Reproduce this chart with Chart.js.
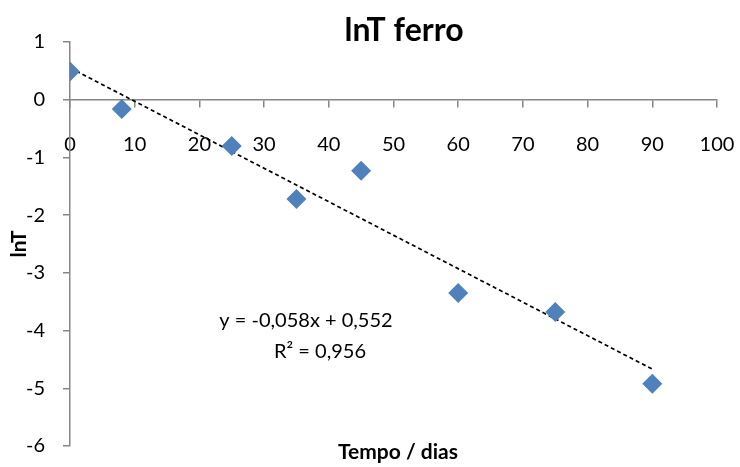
<!DOCTYPE html>
<html>
<head>
<meta charset="utf-8">
<script src="https://cdn.jsdelivr.net/npm/chart.js@4/dist/chart.umd.min.js"></script>
<style>
  html, body { margin: 0; padding: 0; background: #ffffff; }
  #wrap { width: 740px; height: 467px; }
</style>
</head>
<body>
<div id="wrap"><canvas id="chart" width="740" height="467"></canvas></div>
<script>
// Measurements: time in days and ln of T for iron
const days = [0, 8, 25, 35, 45, 60, 75, 90];
const lnT = [0.49, -0.16, -0.80, -1.72, -1.23, -3.35, -3.68, -4.92];

// Linear trendline coefficients (as printed on the chart)
const slope = -0.058;
const intercept = 0.552;
const r2 = 0.956;
const trendRange = [0, 90];

const xTicks = [0, 10, 20, 30, 40, 50, 60, 70, 80, 90, 100];
const yTicks = [1, 0, -1, -2, -3, -4, -5, -6];

const chartTitle = 'lnT ferro';
const xTitle = 'Tempo / dias';
const yTitle = 'lnT';

const fmt = v => v.toFixed(3).replace('.', ',');
const eqLine = 'y = ' + fmt(slope) + 'x + ' + fmt(intercept);
const r2Line = 'R² = ' + fmt(r2);

const trendPoints = trendRange.map(x => ({ x: x, y: slope * x + intercept }));

const axisGray = '#868686';

const textPlugin = {
  id: 'chartTexts',
  afterDraw(chart) {
    const ctx = chart.ctx;
    ctx.save();
    ctx.fillStyle = '#000000';
    ctx.textAlign = 'center';
    ctx.textBaseline = 'middle';
    ctx.font = 'bold 32px Lato';
    ctx.fillText(chartTitle, 404, 31);
    ctx.font = 'bold 21px Lato';
    ctx.fillText(xTitle, 398, 452);
    ctx.font = '20px Lato';
    ctx.fillText(eqLine, 306, 321);
    ctx.fillText(r2Line, 320, 352);
    ctx.restore();
  }
};

new Chart(document.getElementById('chart'), {
  type: 'scatter',
  data: {
    datasets: [
      {
        label: 'lnT',
        data: days.map((d, i) => ({ x: d, y: lnT[i] })),
        pointStyle: 'rectRot',
        pointRadius: 10,
        pointHoverRadius: 10,
        backgroundColor: '#4F81BD',
        borderColor: '#4F81BD',
        borderWidth: 0,
        order: 1
      },
      {
        label: 'Linear',
        type: 'line',
        data: trendPoints,
        borderColor: '#000000',
        borderWidth: 1.7,
        borderDash: [4, 3],
        pointRadius: 0,
        fill: false,
        order: 2
      }
    ]
  },
  options: {
    responsive: false,
    animation: false,
    layout: { padding: { left: 0, right: 23, top: 42, bottom: 21 } },
    plugins: {
      legend: { display: false },
      title: { display: false },
      tooltip: { enabled: false }
    },
    scales: {
      x: {
        type: 'linear',
        position: { y: 0 },
        min: 0,
        max: 100,
        afterBuildTicks: s => { s.ticks = xTicks.map(v => ({ value: v })); },
        afterFit: s => { s.paddingLeft = 0; s.paddingRight = 0; s.paddingTop = 0; s.paddingBottom = 0; },
        ticks: {
          color: '#000000',
          font: { family: 'Lato', size: 20 },
          padding: 26,
          maxRotation: 0
        },
        grid: {
          display: true,
          drawOnChartArea: false,
          drawTicks: true,
          tickLength: 7,
          color: axisGray,
          lineWidth: 1.5
        },
        border: { display: true, color: axisGray, width: 1.5 }
      },
      y: {
        type: 'linear',
        position: 'left',
        min: -6,
        max: 1,
        afterBuildTicks: s => { s.ticks = yTicks.map(v => ({ value: v })); },
        afterFit: s => { s.width = 70; s.paddingTop = 0; s.paddingBottom = 0; s.paddingLeft = 0; s.paddingRight = 0; },
        ticks: {
          color: '#000000',
          font: { family: 'Lato', size: 20 },
          padding: 18
        },
        grid: {
          display: true,
          drawOnChartArea: false,
          drawTicks: true,
          tickLength: 7,
          color: axisGray,
          lineWidth: 1.5
        },
        border: { display: true, color: axisGray, width: 1.5 },
        title: {
          display: true,
          text: yTitle,
          color: '#000000',
          font: { family: 'Lato', size: 21, weight: 'bold' },
          padding: { top: 7, bottom: 0 }
        }
      }
    }
  },
  plugins: [textPlugin]
});
</script>
</body>
</html>
